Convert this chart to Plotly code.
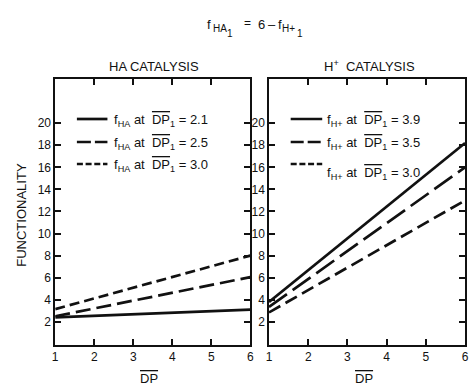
import plotly.graph_objects as go

W, H = 474, 385

# Degree of polymerisation (x) and functionality values at its ends
dp = [1, 6]
ha_dp21 = [2.4, 3.1]
ha_dp25 = [2.5, 6.05]
ha_dp30 = [3.15, 8.0]
hp_dp39 = [3.8, 18.2]
hp_dp35 = [3.35, 16.0]
hp_dp30 = [2.85, 13.0]

x_ticks = [1, 2, 3, 4, 5, 6]
y_ticks = [2, 4, 6, 8, 10, 12, 14, 16, 18, 20]

ha_labels = ["2.1", "2.5", "3.0"]
hp_labels = ["3.9", "3.5", "3.0"]

FONT = "Liberation Sans, Arial, sans-serif"
INK = "#111111"
LW = 2.7


def px(x):
    return x / W


def py(y):
    return 1 - y / H


fig = go.Figure()

left_series = [(ha_dp21, "solid"), (ha_dp25, "15px,6px"), (ha_dp30, "10px,5px")]
right_series = [(hp_dp39, "solid"), (hp_dp35, "22px,7px"), (hp_dp30, "13px,6px")]

for vals, dash in left_series:
    fig.add_trace(go.Scatter(x=dp, y=vals, mode="lines", xaxis="x", yaxis="y",
                             line=dict(color=INK, width=LW, dash=dash),
                             showlegend=False, hoverinfo="skip"))
for vals, dash in right_series:
    fig.add_trace(go.Scatter(x=dp, y=vals, mode="lines", xaxis="x2", yaxis="y2",
                             line=dict(color=INK, width=LW, dash=dash),
                             showlegend=False, hoverinfo="skip"))

ydom = [py(345), py(79)]
axis_common = dict(showline=True, linecolor=INK, linewidth=1.6, mirror="ticks",
                   ticks="inside", ticklen=6, tickwidth=1.6, tickcolor=INK,
                   showgrid=False, zeroline=False,
                   tickfont=dict(family=FONT, size=12, color=INK))

fig.update_layout(
    width=W, height=H,
    margin=dict(l=0, r=0, t=0, b=0),
    paper_bgcolor="white", plot_bgcolor="white",
    xaxis=dict(domain=[px(53), px(251)], range=[1, 6], tickvals=x_ticks,
               anchor="y", **axis_common),
    yaxis=dict(domain=ydom, range=[-0.1, 24.0], tickvals=y_ticks,
               anchor="x", **axis_common),
    xaxis2=dict(domain=[px(270), px(469)], range=[1, 6], tickvals=x_ticks,
                anchor="y2", **axis_common),
    yaxis2=dict(domain=ydom, range=[-0.1, 24.0], tickvals=y_ticks,
                anchor="x2", **axis_common),
)

OVER = "<span style='text-decoration:overline'>DP</span>"


def text(x, y, s, size=13, anchor="center", xanchor=None, angle=0):
    fig.add_annotation(x=px(x), y=py(y), xref="paper", yref="paper", text=s,
                       showarrow=False, xanchor=xanchor or anchor, yanchor="middle",
                       textangle=angle,
                       font=dict(family=FONT, size=size, color=INK))


# Equation heading: f_HA1 = 6 - f_H+1
text(209, 24, "f", 13)
text(220, 28, "HA", 10)
text(230, 33, "1", 10)
text(248, 23, "=", 12)
text(262, 24, "6", 13)
text(273, 24, "–", 13)
text(281, 24, "f", 13)
text(290, 28, "H+", 10)
text(301, 33, "1", 10)

# Panel titles
text(153, 66, "HA CATALYSIS", 13)
text(372, 66, "H<sup>+</sup>  CATALYSIS", 13)

# Axis titles
text(18, 215, "FUNCTIONALITY", 13, angle=-90)
text(148, 378, OVER, 13)
text(366, 378, OVER, 13)

# Key entries
key_dash_left = ["solid", "14px,4px", "6px,2.7px"]
key_dash_right = ["solid", "13px,4px", "6px,2.7px"]
key_rows = [119, 142, 164]

for row, dash, lab in zip(key_rows, key_dash_left, ha_labels):
    fig.add_shape(type="line", xref="paper", yref="paper",
                  x0=px(75), x1=px(106), y0=py(row), y1=py(row),
                  line=dict(color=INK, width=LW, dash=dash))
    text(111, row + 1, f"f<sub>HA</sub> at  {OVER}<sub>1</sub> = {lab}", 13, xanchor="left")

for i, (row, dash, lab) in enumerate(zip(key_rows, key_dash_right, hp_labels)):
    fig.add_shape(type="line", xref="paper", yref="paper",
                  x0=px(292), x1=px(324), y0=py(row), y1=py(row),
                  line=dict(color=INK, width=LW, dash=dash))
    ty = row + 1 if i < 2 else row + 9
    text(327, ty, f"f<sub>H+</sub> at  {OVER}<sub>1</sub> = {lab}", 13, xanchor="left")

fig.write_html("out.html")
